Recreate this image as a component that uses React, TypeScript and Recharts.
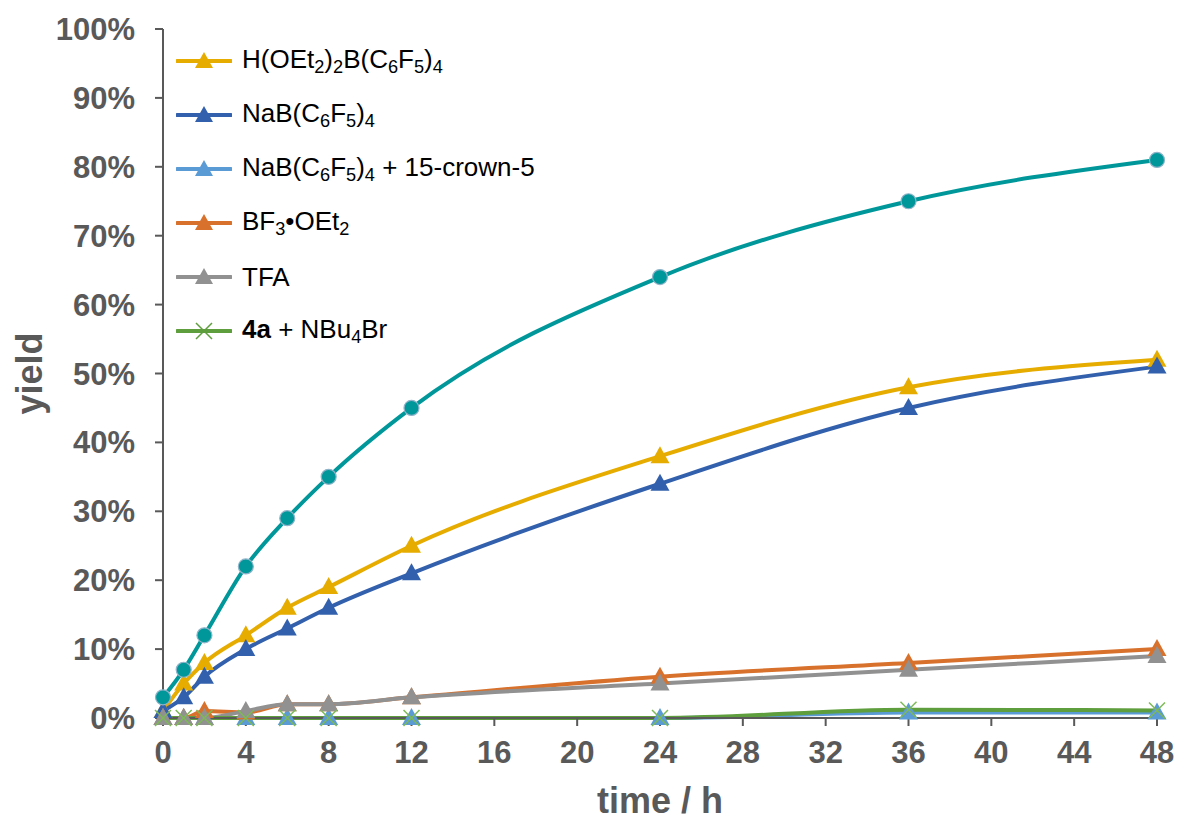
import React from "react";
import { LineChart, Line, XAxis, YAxis } from "recharts";

const times = [0, 1, 2, 4, 6, 8, 12, 24, 36, 48];
const teal = [3, 7, 12, 22, 29, 35, 45, 64, 75, 81];
const hoet = [1, 5, 8, 12, 16, 19, 25, 38, 48, 52];
const nab = [1, 3, 6, 10, 13, 16, 21, 34, 45, 51];
const nabCrown = [0, 0, 0, 0, 0, 0, 0, 0, 0.8, 0.8];
const bf3 = [0, 0, 1, 0.8, 2, 2, 3, 6, 8, 10];
const tfa = [0, 0, 0, 1, 2, 2, 3, 5, 7, 9];
const nbu = [0, 0, 0, 0, 0, 0, 0, 0, 1.2, 1.1];
const xTicks = [0, 4, 8, 12, 16, 20, 24, 28, 32, 36, 40, 44, 48];
const yTicks = [0, 10, 20, 30, 40, 50, 60, 70, 80, 90, 100];

const data = times.map((t, i) => ({
  t,
  teal: teal[i],
  hoet: hoet[i],
  nab: nab[i],
  nabCrown: nabCrown[i],
  bf3: bf3[i],
  tfa: tfa[i],
  nbu: nbu[i],
}));

const C = {
  teal: "#00979A",
  hoet: "#E6AC00",
  nab: "#3360AC",
  nabCrown: "#5B9BD5",
  bf3: "#D8712C",
  tfa: "#919191",
  nbu: "#5E9E3C",
};

const FONT = "'Liberation Sans', Arial, sans-serif";
const AXIS = "#595959";

function triangleDot(color: string) {
  return (p: any) => {
    const { cx, cy, index } = p;
    if (cx == null || cy == null) return <g key={`t-${index}`} />;
    return (
      <path
        key={`t-${index}`}
        d={`M${cx},${cy - 10} L${cx + 9.5},${cy + 7} L${cx - 9.5},${cy + 7} Z`}
        fill={color}
      />
    );
  };
}

function crossDot(color: string) {
  return (p: any) => {
    const { cx, cy, index } = p;
    if (cx == null || cy == null) return <g key={`x-${index}`} />;
    return (
      <path
        key={`x-${index}`}
        d={`M${cx - 8},${cy - 8} L${cx + 8},${cy + 8} M${cx - 8},${cy + 8} L${cx + 8},${cy - 8}`}
        stroke={color}
        strokeWidth={1.5}
      />
    );
  };
}

function circleDot(p: any) {
  const { cx, cy, index } = p;
  if (cx == null || cy == null) return <g key={`c-${index}`} />;
  return <circle key={`c-${index}`} cx={cx} cy={cy} r={7.5} fill={C.teal} stroke="#8FB3C9" strokeWidth={1.2} />;
}

const sub = { fontSize: "0.7em", verticalAlign: "-0.28em" } as const;

const legendItems = [
  { color: C.hoet, mark: "tri", label: <>H(OEt<sub style={sub}>2</sub>)<sub style={sub}>2</sub>B(C<sub style={sub}>6</sub>F<sub style={sub}>5</sub>)<sub style={sub}>4</sub></> },
  { color: C.nab, mark: "tri", label: <>NaB(C<sub style={sub}>6</sub>F<sub style={sub}>5</sub>)<sub style={sub}>4</sub></> },
  { color: C.nabCrown, mark: "tri", label: <>NaB(C<sub style={sub}>6</sub>F<sub style={sub}>5</sub>)<sub style={sub}>4</sub> + 15-crown-5</> },
  { color: C.bf3, mark: "tri", label: <>BF<sub style={sub}>3</sub>•OEt<sub style={sub}>2</sub></> },
  { color: C.tfa, mark: "tri", label: <>TFA</> },
  { color: C.nbu, mark: "x", label: <><b>4a</b> + NBu<sub style={sub}>4</sub>Br</> },
];

function LegendBox() {
  return (
    <div style={{ position: "absolute", left: 176, top: 34, fontFamily: FONT, fontSize: 26, color: "#000" }}>
      {legendItems.map((it, i) => (
        <div key={i} style={{ display: "flex", alignItems: "center", height: 54, whiteSpace: "nowrap" }}>
          <svg width={56} height={24} style={{ marginRight: 10 }}>
            <line x1={1} y1={12} x2={55} y2={12} stroke={it.color} strokeWidth={4} strokeLinecap="round" />
            {it.mark === "tri" ? (
              <path d="M28,3 L37,19 L19,19 Z" fill={it.color} />
            ) : (
              <path d="M20,4 L36,20 M20,20 L36,4" stroke={it.color} strokeWidth={1.5} />
            )}
          </svg>
          <span style={{ lineHeight: 1 }}>{it.label}</span>
        </div>
      ))}
    </div>
  );
}

const tickStyle = { fill: AXIS, fontSize: 31, fontWeight: 700, fontFamily: FONT };

export default function App() {
  return (
    <div style={{ position: "absolute", left: 0, top: 0, width: 1181, height: 821, background: "#fff" }}>
      <LineChart width={1181} height={821} data={data} margin={{ top: 29, right: 24, bottom: 0, left: 0 }}>
        <XAxis
          dataKey="t"
          type="number"
          domain={[0, 48]}
          ticks={xTicks}
          interval={0}
          tick={tickStyle}
          tickSize={8}
          tickMargin={15}
          height={103}
          stroke={AXIS}
          strokeWidth={2}
          tickLine={{ stroke: AXIS, strokeWidth: 2 }}
          label={{ value: "time / h", position: "insideBottom", offset: 8, fill: AXIS, fontSize: 36, fontWeight: 700, fontFamily: FONT }}
        />
        <YAxis
          type="number"
          domain={[0, 100]}
          ticks={yTicks}
          interval={0}
          tickFormatter={(v: number) => `${v}%`}
          tick={tickStyle}
          tickSize={8}
          tickMargin={20}
          width={163}
          stroke={AXIS}
          strokeWidth={2}
          tickLine={{ stroke: AXIS, strokeWidth: 2 }}
          label={{ value: "yield", angle: -90, position: "insideLeft", offset: 29, style: { textAnchor: "middle" }, fill: AXIS, fontSize: 36, fontWeight: 700, fontFamily: FONT }}
        />
        <Line type="monotone" dataKey="hoet" stroke={C.hoet} strokeWidth={4} dot={triangleDot(C.hoet)} isAnimationActive={false} />
        <Line type="monotone" dataKey="nab" stroke={C.nab} strokeWidth={4} dot={triangleDot(C.nab)} isAnimationActive={false} />
        <Line type="monotone" dataKey="nabCrown" stroke={C.nabCrown} strokeWidth={4} dot={triangleDot(C.nabCrown)} isAnimationActive={false} />
        <Line type="monotone" dataKey="bf3" stroke={C.bf3} strokeWidth={4} dot={triangleDot(C.bf3)} isAnimationActive={false} />
        <Line type="monotone" dataKey="tfa" stroke={C.tfa} strokeWidth={4} dot={triangleDot(C.tfa)} isAnimationActive={false} />
        <Line type="monotone" dataKey="nbu" stroke={C.nbu} strokeWidth={4} dot={crossDot("#7DBA55")} isAnimationActive={false} />
        <Line type="monotone" dataKey="teal" stroke={C.teal} strokeWidth={4} dot={circleDot} isAnimationActive={false} />
      </LineChart>
      <LegendBox />
    </div>
  );
}
